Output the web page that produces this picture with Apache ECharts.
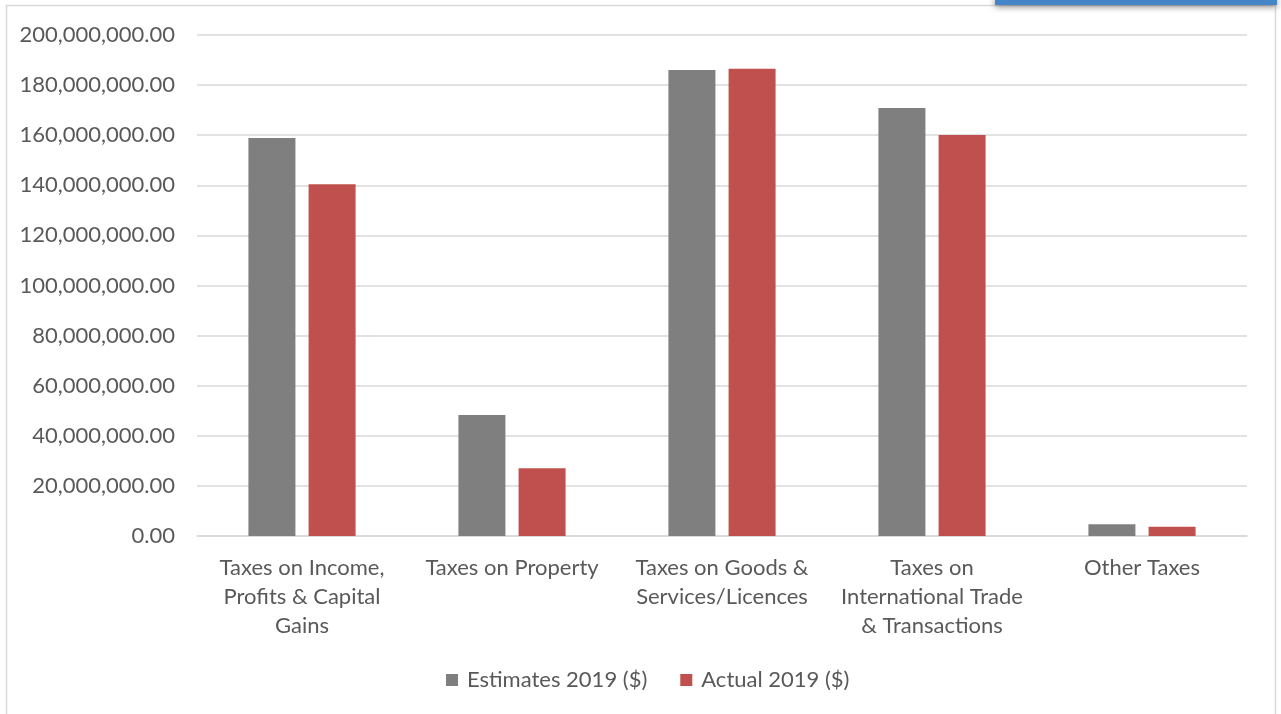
<!DOCTYPE html>
<html>
<head>
<meta charset="utf-8">
<style>
  html, body { margin: 0; padding: 0; background: #ffffff; }
  #chart { width: 1281px; height: 714px; }
</style>
<script src="https://cdn.jsdelivr.net/npm/echarts@6/dist/echarts.min.js"></script>
</head>
<body>
<div id="chart"></div>
<script>
// Tax revenue categories (label lines broken where the axis wraps them)
const categories = [
  'Taxes on Income,\nProfits & Capital\nGains',
  'Taxes on Property',
  'Taxes on Goods &\nServices/Licences',
  'Taxes on\nInternational Trade\n& Transactions',
  'Other Taxes'
];
const seriesNames = ['Estimates 2019 ($)', 'Actual 2019 ($)'];
const estimates2019 = [158900000, 48300000, 186000000, 170900000, 4700000];
const actual2019 = [140400000, 27000000, 186500000, 160100000, 3700000];

const textColor = '#595959';
const gridColor = '#d9d9d9';
const font = 'Lato, "Open Sans", sans-serif';
const fontSize = 22;

const chart = echarts.init(document.getElementById('chart'), null, { renderer: 'canvas' });

function formatMoney(v) {
  return Number(v).toLocaleString('en-US', { minimumFractionDigits: 2, maximumFractionDigits: 2 });
}

chart.setOption({
  backgroundColor: '#ffffff',
  animation: false,
  textStyle: { fontFamily: font },
  graphic: [
    {
      type: 'rect',
      shape: { x: 6.5, y: 5.5, width: 1269, height: 720 },
      style: { fill: 'none', stroke: gridColor, lineWidth: 1.5 },
      z: -1
    },
    {
      type: 'rect',
      shape: { x: 995, y: -4, width: 282, height: 9 },
      style: {
        fill: '#4286c7',
        shadowBlur: 6,
        shadowOffsetY: 2,
        shadowColor: 'rgba(0,0,0,0.45)'
      },
      z: 10
    }
  ],
  grid: { left: 197, right: 34, top: 35, bottom: 178, containLabel: false },
  legend: {
    data: seriesNames,
    bottom: 18,
    left: 441,
    itemWidth: 12,
    itemHeight: 12,
    itemGap: 33,
    icon: 'rect',
    textStyle: { color: textColor, fontSize: fontSize, fontFamily: font, padding: [0, 0, 0, 4] }
  },
  xAxis: {
    type: 'category',
    data: categories,
    axisLine: { show: true, lineStyle: { color: gridColor, width: 1.5 } },
    axisTick: { show: false },
    axisLabel: {
      color: textColor,
      fontSize: fontSize,
      lineHeight: 29,
      margin: 17,
      interval: 0,
      fontFamily: font
    }
  },
  yAxis: {
    type: 'value',
    min: 0,
    max: 200000000,
    interval: 20000000,
    axisLine: { show: false },
    axisTick: { show: false },
    splitLine: { lineStyle: { color: gridColor, width: 1.5 } },
    axisLabel: {
      color: textColor,
      fontSize: fontSize,
      margin: 22,
      fontFamily: font,
      formatter: formatMoney
    }
  },
  series: [
    {
      name: seriesNames[0],
      type: 'bar',
      data: estimates2019,
      barWidth: 47,
      barGap: '28%',
      itemStyle: { color: '#7f7f7f' }
    },
    {
      name: seriesNames[1],
      type: 'bar',
      data: actual2019,
      barWidth: 47,
      itemStyle: { color: '#c0504d' }
    }
  ]
});
</script>
</body>
</html>
